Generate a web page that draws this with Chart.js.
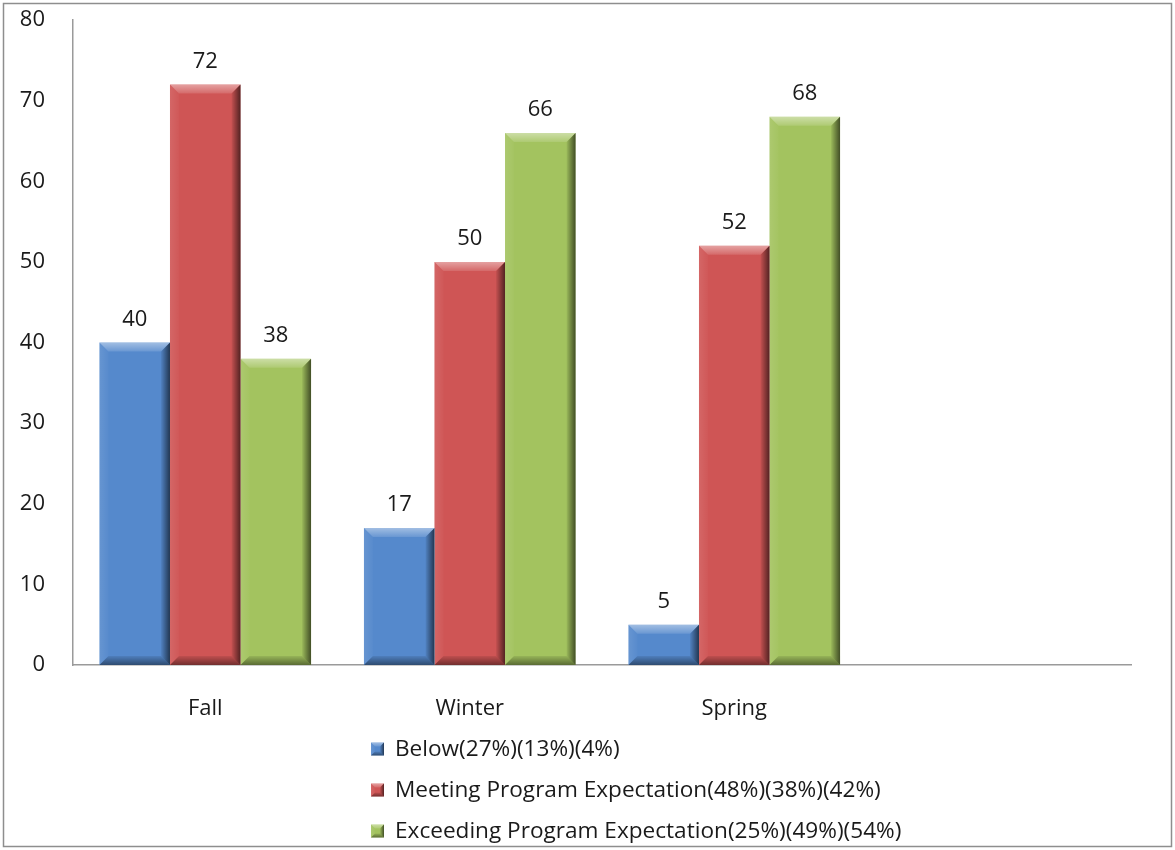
<!DOCTYPE html>
<html>
<head>
<meta charset="utf-8">
<title>Program Expectation by Term</title>
<script src="https://cdn.jsdelivr.net/npm/chart.js@4.4.1/dist/chart.umd.min.js"></script>
<style>
  html, body { margin: 0; padding: 0; background: #ffffff; }
  #wrap { width: 1175px; height: 850px; position: relative; }
</style>
</head>
<body>
<div id="wrap"><canvas id="chart" width="1175" height="850"></canvas></div>
<script>
// Terms (the fourth slot is left empty on purpose)
const categories = ['Fall', 'Winter', 'Spring', ''];

// Student counts per term
const belowValues     = [40, 17, 5, null];
const meetingValues   = [72, 50, 52, null];
const exceedingValues = [38, 66, 68, null];

const seriesLabels = [
  'Below(27%)(13%)(4%)',
  'Meeting Program Expectation(48%)(38%)(42%)',
  'Exceeding Program Expectation(25%)(49%)(54%)'
];

// Y axis range
const yMin = 0;
const yMax = 80;
const yStep = 10;

const FONT = "'Open Sans', 'Noto Sans', sans-serif";
const TEXT = '#1a1a1a';
const AXIS = '#9a9a9a';

// Outer frame of the figure
const framePlugin = {
  id: 'frame',
  beforeDraw(chart) {
    const ctx = chart.ctx;
    ctx.save();
    ctx.fillStyle = '#ffffff';
    ctx.fillRect(0, 0, chart.width, chart.height);
    ctx.strokeStyle = '#8e8e8e';
    ctx.lineWidth = 1.5;
    ctx.strokeRect(3.5, 3.5, chart.width - 7, chart.height - 7);
    ctx.restore();
  }
};

// Bevel shading drawn over each bar, using the bar geometry from Chart.js
function bevel(ctx, left, top, right, bottom, b) {
  const h = bottom - top;
  b = Math.min(b, h / 2, (right - left) / 2);
  // top face
  let g = ctx.createLinearGradient(0, top, 0, top + b);
  g.addColorStop(0, 'rgba(255,255,255,0.45)');
  g.addColorStop(1, 'rgba(255,255,255,0.12)');
  ctx.fillStyle = g;
  ctx.beginPath();
  ctx.moveTo(left, top); ctx.lineTo(right, top);
  ctx.lineTo(right - b, top + b); ctx.lineTo(left + b, top + b);
  ctx.closePath(); ctx.fill();
  // left face
  g = ctx.createLinearGradient(left, 0, left + b, 0);
  g.addColorStop(0, 'rgba(255,255,255,0.10)');
  g.addColorStop(1, 'rgba(255,255,255,0.02)');
  ctx.fillStyle = g;
  ctx.beginPath();
  ctx.moveTo(left, top); ctx.lineTo(left + b, top + b);
  ctx.lineTo(left + b, bottom - b); ctx.lineTo(left, bottom);
  ctx.closePath(); ctx.fill();
  // right face
  g = ctx.createLinearGradient(right - b, 0, right, 0);
  g.addColorStop(0, 'rgba(0,0,0,0.05)');
  g.addColorStop(1, 'rgba(0,0,0,0.60)');
  ctx.fillStyle = g;
  ctx.beginPath();
  ctx.moveTo(right, top); ctx.lineTo(right, bottom);
  ctx.lineTo(right - b, bottom - b); ctx.lineTo(right - b, top + b);
  ctx.closePath(); ctx.fill();
  // bottom face
  g = ctx.createLinearGradient(0, bottom - b, 0, bottom);
  g.addColorStop(0, 'rgba(0,0,0,0.08)');
  g.addColorStop(1, 'rgba(0,0,0,0.45)');
  ctx.fillStyle = g;
  ctx.beginPath();
  ctx.moveTo(left, bottom); ctx.lineTo(right, bottom);
  ctx.lineTo(right - b, bottom - b); ctx.lineTo(left + b, bottom - b);
  ctx.closePath(); ctx.fill();
}

const bevelPlugin = {
  id: 'bevel',
  afterDatasetsDraw(chart) {
    const ctx = chart.ctx;
    ctx.save();
    chart.data.datasets.forEach((ds, i) => {
      const meta = chart.getDatasetMeta(i);
      meta.data.forEach((bar, j) => {
        if (ds.data[j] == null) return;
        const p = bar.getProps(['x', 'y', 'base', 'width'], true);
        bevel(ctx, p.x - p.width / 2, p.y, p.x + p.width / 2, p.base, 9);
      });
    });
    ctx.restore();
  }
};

// Value labels above the bars
const valueLabelPlugin = {
  id: 'valueLabels',
  afterDatasetsDraw(chart) {
    const ctx = chart.ctx;
    ctx.save();
    ctx.font = '22px ' + FONT;
    ctx.fillStyle = TEXT;
    ctx.textAlign = 'center';
    ctx.textBaseline = 'alphabetic';
    chart.data.datasets.forEach((ds, i) => {
      const meta = chart.getDatasetMeta(i);
      meta.data.forEach((bar, j) => {
        const v = ds.data[j];
        if (v == null) return;
        const p = bar.getProps(['x', 'y'], true);
        ctx.fillText(String(v), p.x, p.y - 17);
      });
    });
    ctx.restore();
  }
};

// Vertical legend under the category labels
const stackedLegendPlugin = {
  id: 'stackedLegend',
  afterDraw(chart) {
    const ctx = chart.ctx;
    const left = 371, firstY = 749, rowGap = 41, box = 13;
    ctx.save();
    ctx.font = '22.6px ' + FONT;
    ctx.textBaseline = 'middle';
    ctx.textAlign = 'left';
    chart.data.datasets.forEach((ds, i) => {
      const cy = firstY + i * rowGap;
      const top = cy - box / 2;
      ctx.fillStyle = ds.backgroundColor;
      ctx.fillRect(left, top, box, box);
      bevel(ctx, left, top, left + box, top + box, 4);
      ctx.fillStyle = TEXT;
      ctx.fillText(ds.label, left + 24, cy + 1);
    });
    ctx.restore();
  }
};

new Chart(document.getElementById('chart'), {
  type: 'bar',
  data: {
    labels: categories,
    datasets: [
      { label: seriesLabels[0], data: belowValues,     backgroundColor: '#5589CC' },
      { label: seriesLabels[1], data: meetingValues,   backgroundColor: '#CF5555' },
      { label: seriesLabels[2], data: exceedingValues, backgroundColor: '#A3C35F' }
    ]
  },
  options: {
    responsive: false,
    animation: false,
    layout: { padding: { top: 20, right: 44, bottom: 0, left: 0 } },
    datasets: { bar: { categoryPercentage: 0.8, barPercentage: 1.0, borderWidth: 0 } },
    plugins: {
      legend: { display: false },
      tooltip: { enabled: false },
      title: { display: false }
    },
    scales: {
      x: {
        grid: { display: false, drawTicks: false },
        border: { display: true, color: AXIS, width: 1.5 },
        ticks: { color: TEXT, font: { family: FONT, size: 22 }, padding: 31 },
        afterFit(scale) { scale.height = 185; scale.paddingTop = 0; scale.paddingBottom = 0; }
      },
      y: {
        min: yMin,
        max: yMax,
        grid: { display: false, drawTicks: false },
        border: { display: true, color: AXIS, width: 1.5 },
        ticks: { stepSize: yStep, color: TEXT, font: { family: FONT, size: 22 }, padding: 28 },
        afterFit(scale) { scale.width = 73; scale.paddingTop = 0; scale.paddingBottom = 0; }
      }
    }
  },
  plugins: [framePlugin, bevelPlugin, valueLabelPlugin, stackedLegendPlugin]
});
</script>
</body>
</html>
